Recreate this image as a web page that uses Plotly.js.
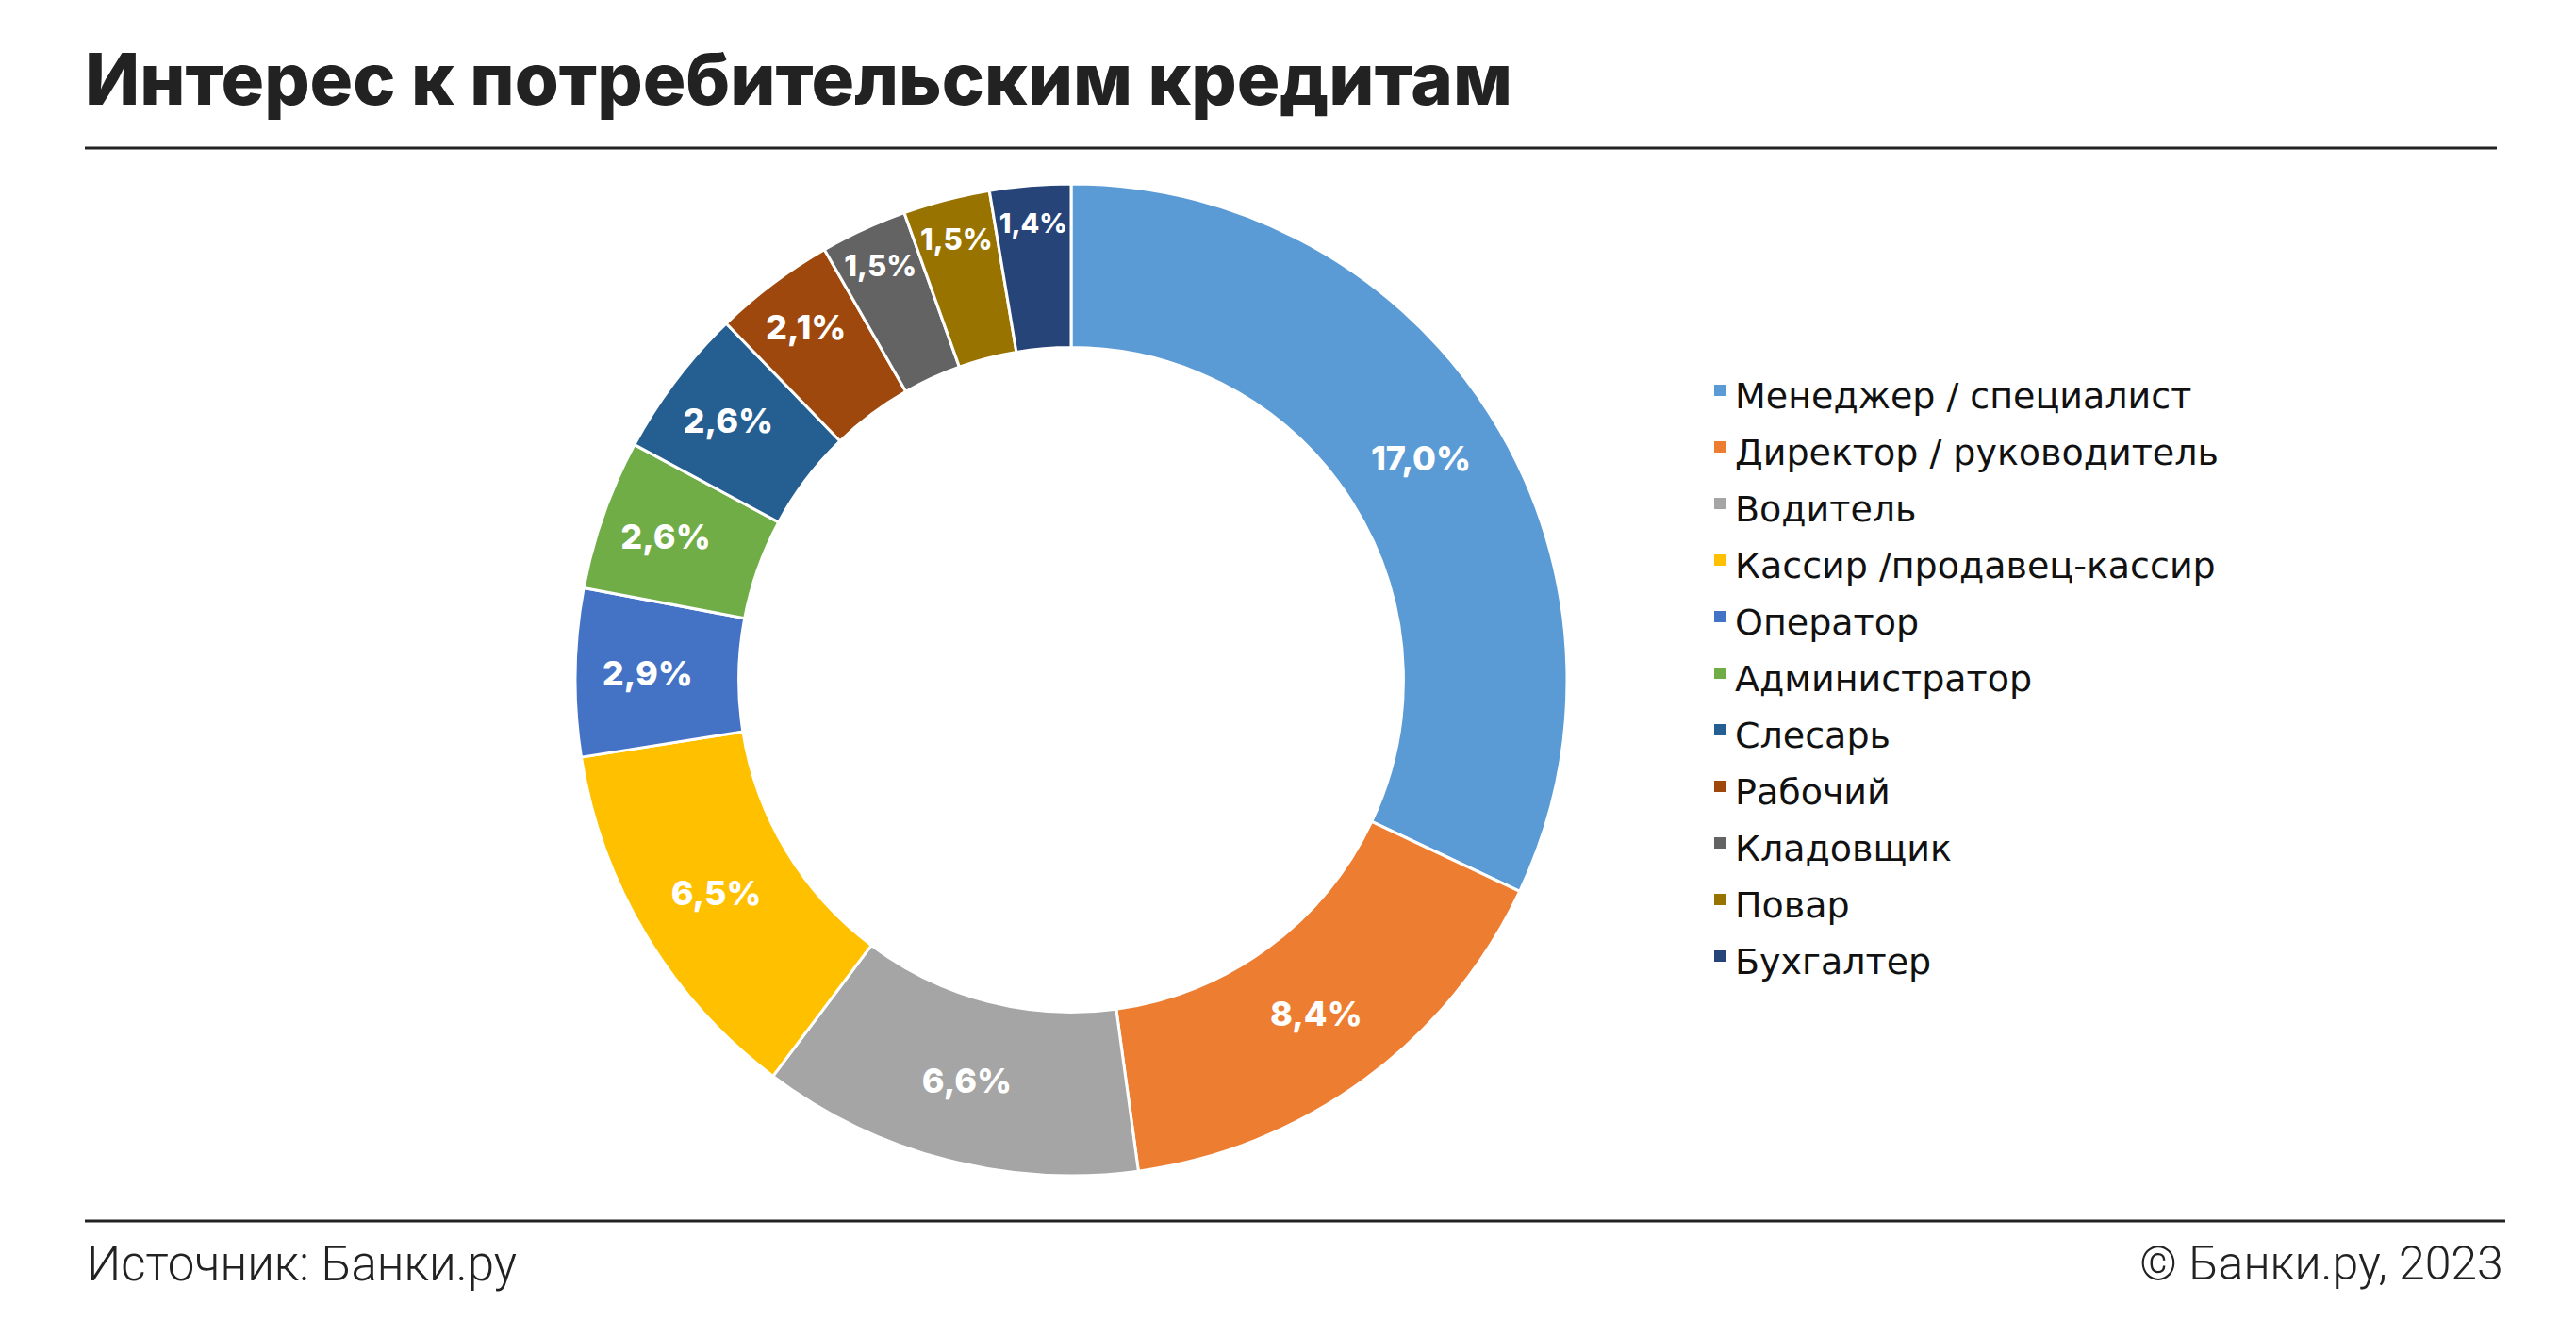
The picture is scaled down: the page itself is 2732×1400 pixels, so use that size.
<!DOCTYPE html>
<html>
<head>
<meta charset="utf-8">
<script src="https://cdn.plot.ly/plotly-3.0.1.min.js"></script>
<style>
  html, body { margin: 0; padding: 0; background: #ffffff; }
  #chart { width: 2732px; height: 1400px; }
</style>
</head>
<body>
<div id="chart"></div>
<script>
// ---- Data ----
const categories = [
  "Менеджер / специалист",
  "Директор / руководитель",
  "Водитель",
  "Кассир /продавец-кассир",
  "Оператор",
  "Администратор",
  "Слесарь",
  "Рабочий",
  "Кладовщик",
  "Повар",
  "Бухгалтер"
];
const shares = [17.0, 8.4, 6.6, 6.5, 2.9, 2.6, 2.6, 2.1, 1.5, 1.5, 1.4];
const colors = [
  "#5B9BD5", "#ED7D31", "#A5A5A5", "#FFC000", "#4472C4", "#70AD47",
  "#255E91", "#9E480E", "#636363", "#997300", "#264478"
];
const titleText = "Интерес к потребительским кредитам";
const sourceText = "Источник: Банки.ру";
const copyrightText = "© Банки.ру, 2023";

// ---- Layout helpers (pixel -> paper) ----
const W = 2732, H = 1400;
const px = x => x / W;
const py = y => 1 - y / H;

const trace = {
  type: "pie",
  labels: categories,
  values: shares,
  sort: false,
  direction: "clockwise",
  rotation: 0,
  hole: 0.67,
  marker: { colors: colors, line: { color: "#ffffff", width: 3 } },
  texttemplate: "%{value:.1f}%",
  textinfo: "value",
  textposition: "inside",
  insidetextorientation: "horizontal",
  textfont: { family: "Inter, sans-serif", size: 36, color: "#ffffff", weight: 800 },
  domain: { x: [px(1136 - 526), px(1136 + 526)], y: [py(721 + 526), py(721 - 526)] },
  showlegend: false,
  hoverinfo: "label+value"
};

const annotations = [];
const shapes = [];

// Header / footer rules
shapes.push({ type: "line", xref: "paper", yref: "paper", x0: px(90), x1: px(2648), y0: py(157), y1: py(157),
  line: { color: "#222222", width: 3 } });
shapes.push({ type: "line", xref: "paper", yref: "paper", x0: px(90), x1: px(2657), y0: py(1295), y1: py(1295),
  line: { color: "#222222", width: 3 } });

annotations.push({ xref: "paper", yref: "paper", x: px(90), y: py(1340), xanchor: "left", yanchor: "middle",
  text: sourceText, showarrow: false, font: { family: "Roboto, sans-serif", size: 51, color: "#222222", weight: 300 } });
annotations.push({ xref: "paper", yref: "paper", x: px(2657), y: py(1340), xanchor: "right", yanchor: "middle",
  text: copyrightText, showarrow: false, font: { family: "Roboto, sans-serif", size: 50, color: "#222222", weight: 300 } });

// Legend built from the category and colour arrays
const rowStart = 420, rowStep = 60;
categories.forEach((name, i) => {
  const yc = rowStart + rowStep * i;
  annotations.push({ xref: "paper", yref: "paper", x: px(1838), y: py(yc), xanchor: "left", yanchor: "middle",
    text: name, showarrow: false, font: { family: "DejaVu Sans, sans-serif", size: 38, color: "#111111" } });
  shapes.push({ type: "rect", xref: "paper", yref: "paper", x0: px(1818), x1: px(1830),
    y0: py(yc - 12), y1: py(yc), fillcolor: colors[i], line: { width: 0 } });
});

const layout = {
  width: W, height: H,
  margin: { l: 0, r: 0, t: 0, b: 0 },
  paper_bgcolor: "#ffffff",
  separators: ", ",
  title: {
    text: titleText,
    x: px(90), xref: "paper", xanchor: "left",
    y: 1 - 84 / H, yref: "container", yanchor: "middle",
    font: { family: "Inter, sans-serif", size: 76, color: "#222222", weight: 800 }
  },
  annotations: annotations,
  shapes: shapes,
  showlegend: false
};

Plotly.newPlot("chart", [trace], layout, { displayModeBar: false, staticPlot: true });
</script>
</body>
</html>
